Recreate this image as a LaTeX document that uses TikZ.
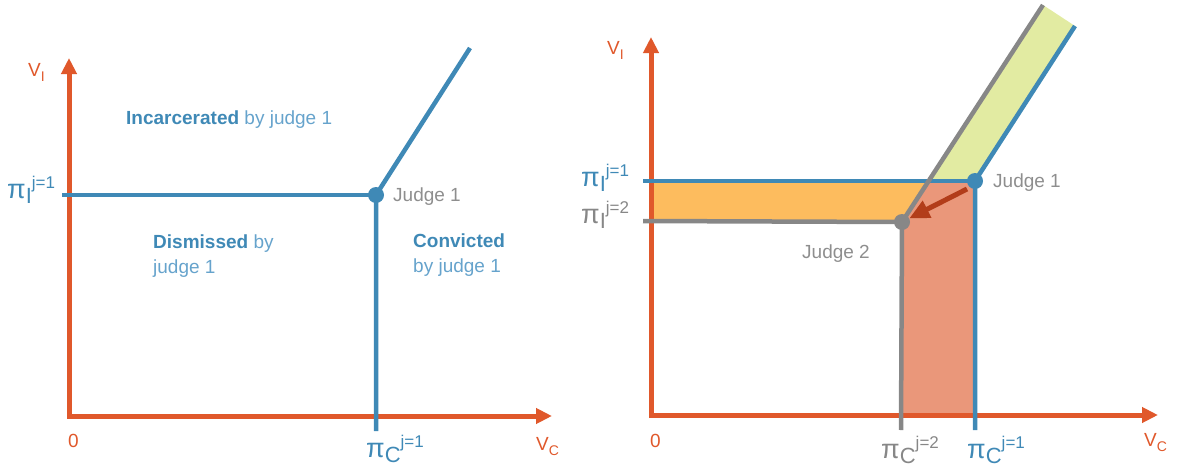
\documentclass[tikz,border=0pt]{standalone}
\usepackage{fontspec}
\setmainfont{Liberation Sans}
\usetikzlibrary{arrows.meta}

\definecolor{axisred}{HTML}{E0582B}
\definecolor{jblue}{HTML}{3F89B6}
\definecolor{lblue}{HTML}{66A3CC}
\definecolor{jgrey}{HTML}{878787}
\definecolor{tgrey}{HTML}{8E8E8E}
\definecolor{orangefill}{HTML}{FDBC5E}
\definecolor{salmonfill}{HTML}{EA977A}
\definecolor{greenfill}{HTML}{E2EBA2}
\definecolor{shiftred}{HTML}{B23D1A}

\newcommand{\pilabel}[2]{π\raisebox{-5pt}{\fontsize{22}{22}\selectfont #1}\raisebox{10pt}{\fontsize{17}{17}\selectfont j=#2}}
\newcommand{\vlabel}[1]{V\raisebox{-5pt}{\fontsize{14}{14}\selectfont #1}}

\tikzset{
  axis/.style={line width=5pt, axisred, -{Triangle[length=16pt,width=15pt]}},
  bline/.style={line width=4.5pt, jblue},
  gline/.style={line width=4.5pt, jgrey},
  bdot/.style={circle, fill=jblue, minimum size=16pt, inner sep=0pt},
  gdot/.style={circle, fill=jgrey, minimum size=16pt, inner sep=0pt},
  judgelbl/.style={font=\fontsize{19}{22}\selectfont, tgrey, inner sep=0pt},
  regionlbl/.style={font=\fontsize{19}{25}\selectfont, lblue, inner sep=0pt, align=left},
  pilbl/.style={font=\fontsize{27}{30}\selectfont, inner sep=0pt},
  axislbl/.style={font=\fontsize{19}{22}\selectfont, axisred, inner sep=0pt},
}

\begin{document}
\begin{tikzpicture}[x=1pt, y=-1pt]
  \useasboundingbox (0,0) rectangle (1178,471);

  % Left panel: judge 1 only
  \coordinate (O1) at (69,416);
  \coordinate (J1left) at (62,195);
  \coordinate (J1bot) at (376,431);
  \coordinate (J1top) at (470,48);

  \draw[axis] (69,418) -- (69,58);
  \draw[axis] (67,416) -- (552,416);

  \draw[bline] (J1left) -- (376,195);
  \draw[bline] (J1bot) -- (376,195) -- (J1top);
  \node[bdot] (J1) at (376,195) {};

  \node[judgelbl, anchor=west] (J1lbl) at (393,197) {Judge 1};
  \node[regionlbl, anchor=west] (inc) at (126,120) {\textbf{\color{jblue}Incarcerated} by judge 1};
  \node[regionlbl, anchor=north west] (dis) at (153,235) {\textbf{\color{jblue}Dismissed} by\\judge 1};
  \node[regionlbl, anchor=north west] (con) at (413,234) {\textbf{\color{jblue}Convicted}\\by judge 1};

  \node[pilbl, jblue, anchor=west] (piI1) at (7,190) {\pilabel{I}{1}};
  \node[pilbl, jblue, anchor=west] (piC1) at (366,449) {\pilabel{C}{1}};
  \node[axislbl, anchor=west] (vI) at (28,72) {\vlabel{I}};
  \node[axislbl, anchor=west] (vC) at (536,447) {\vlabel{C}};
  \node[axislbl, anchor=west] (zero1) at (68,441) {0};

  % Right panel: judge 1 vs judge 2
  \coordinate (K1top) at (1075,26);
  \coordinate (K1bot) at (975,430);
  \coordinate (K1left) at (643,181);
  \coordinate (K2top) at (1043,5);
  \coordinate (K2bot) at (901,430);
  \coordinate (K2left) at (643,221);
  \coordinate (X) at (929,181);

  \fill[orangefill] (649,181) -- (X) -- (902,222) -- (649,222) -- cycle;
  \fill[salmonfill] (902,222) -- (X) -- (975,181) -- (975,416) -- (901,416) -- cycle;
  \fill[greenfill] (X) -- (K2top) -- (K1top) -- (975,181) -- cycle;

  \draw[axis] (651,418) -- (651,37);
  \draw[axis] (649,415) -- (1158,415);

  \draw[bline] (K1left) -- (975,181);
  \draw[bline] (K1bot) -- (975,181) -- (K1top);
  \draw[gline] (K2left) -- (902,222);
  \draw[gline] (K2bot) -- (902,222) -- (K2top);
  \node[bdot] (K1) at (975,181) {};
  \node[gdot] (K2) at (902,222) {};

  % shift from judge 1 to judge 2
  \draw[shiftred, line width=5pt, -{Triangle[length=20pt,width=18pt]}] (967,189) -- (K2);

  \node[judgelbl, anchor=west] (K1lbl) at (993,183) {Judge 1};
  \node[judgelbl, anchor=west] (K2lbl) at (802,254) {Judge 2};

  \node[pilbl, jblue, anchor=west] (rpiI1) at (581,178) {\pilabel{I}{1}};
  \node[pilbl, jgrey, anchor=west] (rpiI2) at (581,215) {\pilabel{I}{2}};
  \node[pilbl, jgrey, anchor=west] (rpiC2) at (881,450) {\pilabel{C}{2}};
  \node[pilbl, jblue, anchor=west] (rpiC1) at (967,450) {\pilabel{C}{1}};
  \node[axislbl, anchor=west] (rvI) at (607,50) {\vlabel{I}};
  \node[axislbl, anchor=west] (rvC) at (1144,443) {\vlabel{C}};
  \node[axislbl, anchor=west] (zero2) at (650,441) {0};
\end{tikzpicture}
\end{document}
